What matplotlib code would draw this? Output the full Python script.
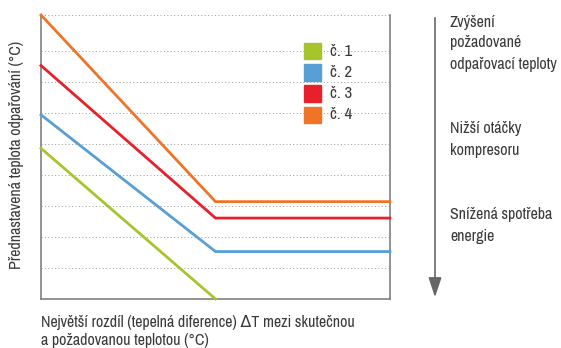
import matplotlib
matplotlib.use("Agg")
import matplotlib.pyplot as plt
from matplotlib.patches import Rectangle, FancyArrowPatch

plt.rcParams['font.family'] = ['Archivo Narrow', 'DejaVu Sans']

# data (arbitrary units)
x_pts = [0, 5, 10]
series = ["č. 1", "č. 2", "č. 3", "č. 4"]
green = [4.86, 0.0, None]
blue = [5.94, 1.53, 1.53]
red = [7.53, 2.61, 2.61]
orange = [9.16, 3.14, 3.14]
colors = ["#a6c52d", "#579fd5", "#e8202a", "#ee7528"]
grid_y = [1, 2, 3, 4, 5, 6, 7, 8, 9.16]

txt = "#3a3a3a"
fs = 11.5
W, H = 561, 348
fig = plt.figure(figsize=(W / 100, H / 100), dpi=100)
ax = fig.add_axes([41 / W, 49 / H, 349 / W, 284 / H])
ax.set_xlim(0, 10)
ax.set_ylim(0, 9.16)

for gy in grid_y:
    ax.axhline(gy, color="#999999", lw=0.7, ls=(0, (1, 2.5)), zorder=1)

for vals, c in zip([green, blue, red, orange], colors):
    xs = [x for x, v in zip(x_pts, vals) if v is not None]
    ys = [v for v in vals if v is not None]
    ax.plot(xs, ys, color=c, lw=2, solid_joinstyle="miter", zorder=3, clip_on=False)

ax.spines["top"].set_visible(False)
for s in ["left", "bottom", "right"]:
    ax.spines[s].set_color("#808080")
    ax.spines[s].set_linewidth(1.2)
ax.set_xticks([])
ax.set_yticks([])

# legend drawn as squares
for i, (name, c) in enumerate(zip(series, colors)):
    y = 51 + i * 21.3
    fig.patches.append(Rectangle((304 / W, 1 - (y + 8.3) / H), 17 / W, 16.6 / H,
                                 transform=fig.transFigure, color=c, zorder=5))
    fig.text(330 / W, 1 - y / H, name, fontsize=12, va="center", ha="left", color=txt)

fig.text(17 / W, 1 - 155 / H, "Přednastavená teplota odpařování (°C)", fontsize=fs,
         rotation=90, va="center", ha="center", color=txt)
fig.text(41 / W, 1 - 323 / H, "Největší rozdíl (tepelná diference) ΔT mezi skutečnou",
         fontsize=fs, va="center", ha="left", color=txt)
fig.text(41 / W, 1 - 341 / H, "a požadovanou teplotou (°C)",
         fontsize=fs, va="center", ha="left", color=txt)

# arrow on the right
fig.add_artist(FancyArrowPatch((435 / W, 1 - 15 / H), (435 / W, 1 - 300 / H),
                               transform=fig.transFigure, arrowstyle="-|>,head_width=4,head_length=12",
                               mutation_scale=1, color="#666666", lw=1.2))

notes = [(22, "Zvýšení"), (43, "požadované"), (64, "odpařovací teploty"),
         (128, "Nižší otáčky"), (150, "kompresoru"),
         (215, "Snížená spotřeba"), (236, "energie")]
for y, t in notes:
    fig.text(450 / W, 1 - y / H, t, fontsize=fs, va="center", ha="left", color=txt)

fig.savefig("out.png", dpi=100)
